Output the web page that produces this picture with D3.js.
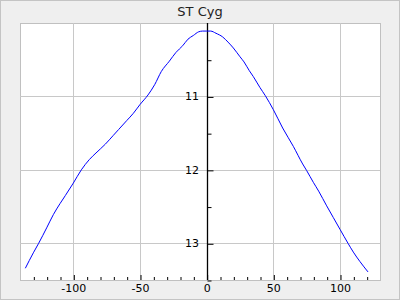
<!DOCTYPE html>
<html>
<head>
<meta charset="utf-8">
<script src="https://cdn.jsdelivr.net/npm/d3@7"></script>
<style>
  body { margin: 0; background: #efefef; }
  svg { display: block; font-family: "DejaVu Sans", sans-serif; }
</style>
</head>
<body>
<svg id="chart" width="400" height="300"></svg>
<script>

// Data: phase (days) vs magnitude
var phase = [-136, -130, -126, -120, -115, -110, -106, -100, -94, -88, -83, -76, -70, -66,
    -60, -55, -50, -44, -39, -34, -28, -23, -18, -14, -10, -6, -3, 0, 3, 7, 12, 16,
    20, 25, 28, 32, 35, 40, 44, 50, 57, 65, 72, 75, 80, 84, 90, 95, 100, 106, 110, 115, 121];
var mag = [13.34, 13.13, 13.0, 12.79, 12.61, 12.46, 12.35, 12.18, 12.0, 11.86, 11.77, 11.65, 11.53, 11.45,
    11.33, 11.23, 11.11, 10.98, 10.84, 10.66, 10.52, 10.40, 10.31, 10.22, 10.17, 10.12, 10.11, 10.11, 10.11, 10.14, 10.19, 10.26,
    10.34, 10.46, 10.53, 10.65, 10.73, 10.88, 10.99, 11.18, 11.43, 11.68, 11.92, 12.01, 12.17, 12.29, 12.49, 12.65, 12.81, 13.0, 13.12, 13.25, 13.39];

var xMajor = [-100, -50, 0, 50, 100];
var yMajor = [11, 12, 13];
var title = "ST Cyg";

// Dimensions
var width = 400, height = 300;
var plotLeft = 20, plotTop = 23, plotRight = 380, plotBottom = 280;

var svg = d3.select("#chart");

svg.append("rect")
    .attr("x", 0.5).attr("y", 0.5)
    .attr("width", width - 1).attr("height", height - 1)
    .attr("fill", "#efefef")
    .attr("stroke", "#c4c4c4");

var x = d3.scaleLinear().domain([-140, 130]).range([plotLeft, plotRight]);
var y = d3.scaleLinear().domain([10, 13.5]).range([plotTop, plotBottom]);

var px = function(v) { return Math.round(x(v)) + 0.5; };
var py = function(v) { return Math.round(y(v)) + 0.5; };

// Plot area
svg.append("rect")
    .attr("x", plotLeft + 0.5).attr("y", plotTop + 0.5)
    .attr("width", plotRight - plotLeft).attr("height", plotBottom - plotTop)
    .attr("fill", "white")
    .attr("stroke", "#c0c0c0");

// Grid
var grid = svg.append("g").attr("class", "grid")
    .attr("stroke", "#c8c8c8").attr("stroke-width", 1);

grid.selectAll("line.gx")
    .data(xMajor.filter(function(d) { return d !== 0; }))
    .enter().append("line")
    .attr("x1", px).attr("x2", px)
    .attr("y1", plotTop).attr("y2", plotBottom);

grid.selectAll("line.gy")
    .data(yMajor)
    .enter().append("line")
    .attr("x1", plotLeft).attr("x2", plotRight)
    .attr("y1", py).attr("y2", py);

// Title
svg.append("text")
    .attr("x", width / 2)
    .attr("y", 16)
    .attr("text-anchor", "middle")
    .attr("font-size", 13)
    .attr("fill", "#222")
    .text(title);

// Bottom axis (ticks pointing up)
var xAxis = d3.axisTop(x)
    .tickValues(d3.range(-130, 130, 10))
    .tickSize(3)
    .tickFormat("");

svg.append("g")
    .attr("transform", "translate(0.5," + plotBottom + ")")
    .call(xAxis)
    .call(function(g) {
        g.select(".domain").remove();
        g.selectAll(".tick line")
            .attr("stroke", "black")
            .attr("y2", function(d) { return d % 50 === 0 ? -5 : -3; });
    });

svg.append("g")
    .selectAll("text")
    .data(xMajor)
    .enter().append("text")
    .attr("x", function(d) { return x(d) + 0.5; })
    .attr("y", 292)
    .attr("text-anchor", "middle")
    .attr("font-size", 11)
    .attr("fill", "black")
    .text(function(d) { return d; });

// Y axis at x = 0, ticks pointing right
var yAxis = d3.axisRight(y)
    .tickValues(d3.range(10.5, 13.6, 0.5))
    .tickSize(4)
    .tickFormat("");

svg.append("g")
    .attr("transform", "translate(" + (Math.round(x(0)) + 0.5) + ",0.5)")
    .call(yAxis)
    .call(function(g) {
        g.select(".domain").remove();
        g.selectAll(".tick line")
            .attr("stroke", "black")
            .attr("x2", function(d) { return d % 1 === 0 ? 6 : 4; });
    });

svg.append("line")
    .attr("x1", px(0)).attr("x2", px(0))
    .attr("y1", plotTop).attr("y2", plotBottom)
    .attr("stroke", "black")
    .attr("stroke-width", 1.3);

svg.append("g")
    .selectAll("text")
    .data(yMajor)
    .enter().append("text")
    .attr("x", Math.round(x(0)) - 8)
    .attr("y", function(d) { return y(d) + 4; })
    .attr("text-anchor", "end")
    .attr("font-size", 11)
    .attr("fill", "black")
    .text(function(d) { return d; });

// Light curve
var points = phase.map(function(p, i) { return [p, mag[i]]; });

var line = d3.line()
    .x(function(d) { return x(d[0]); })
    .y(function(d) { return y(d[1]); })
    .curve(d3.curveMonotoneX);

svg.append("path")
    .datum(points)
    .attr("fill", "none")
    .attr("stroke", "#0000ff")
    .attr("stroke-width", 1)
    .attr("d", line);

</script>
</body>
</html>
